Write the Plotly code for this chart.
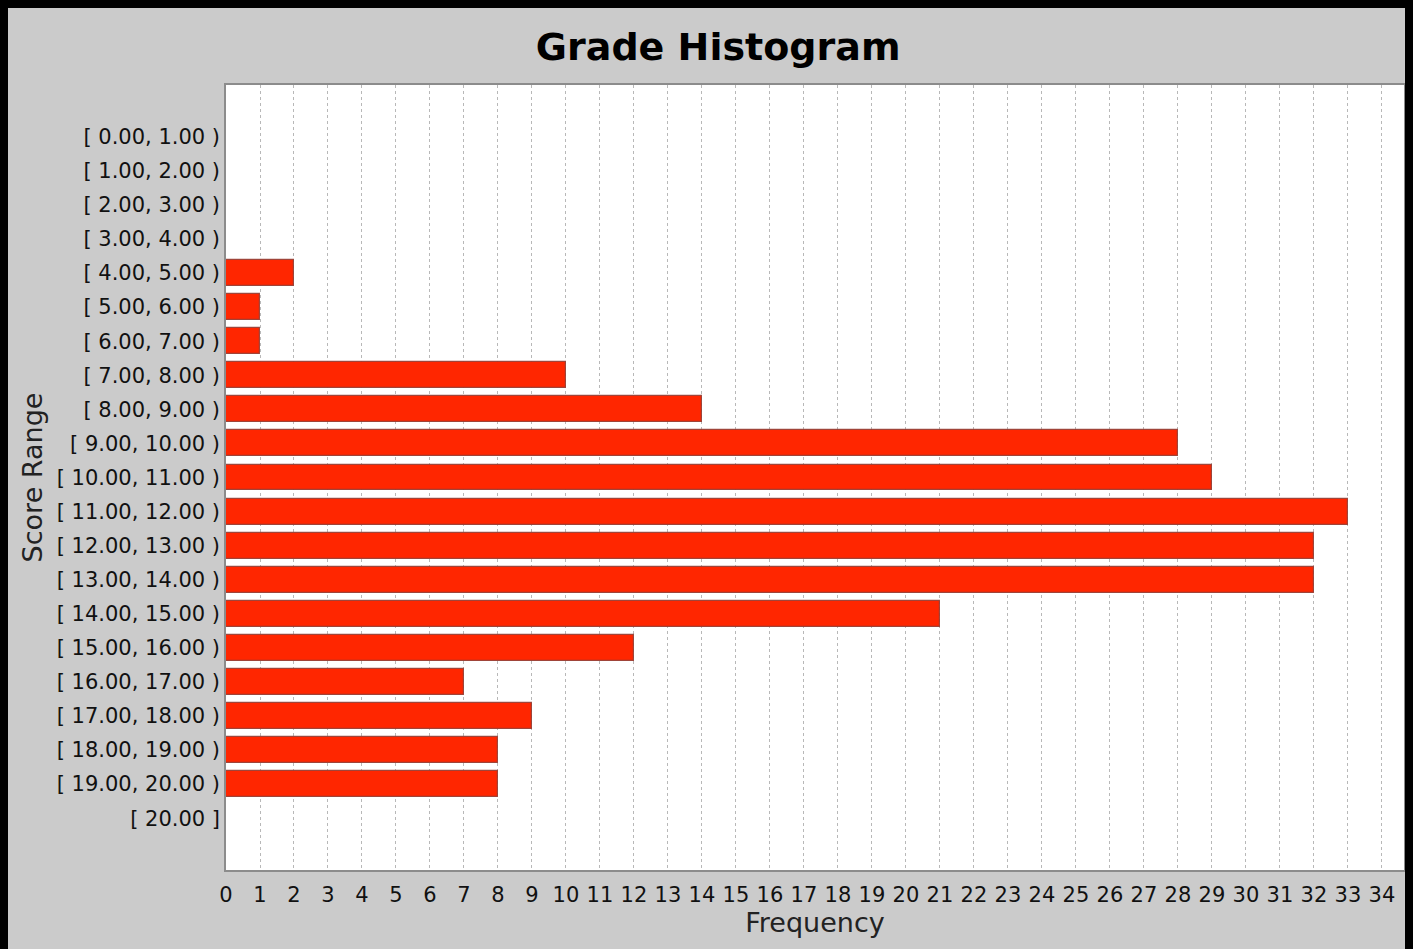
import plotly.graph_objects as go

categories = ["[ 0.00, 1.00 )", "[ 1.00, 2.00 )", "[ 2.00, 3.00 )", "[ 3.00, 4.00 )",
              "[ 4.00, 5.00 )", "[ 5.00, 6.00 )", "[ 6.00, 7.00 )", "[ 7.00, 8.00 )",
              "[ 8.00, 9.00 )", "[ 9.00, 10.00 )", "[ 10.00, 11.00 )", "[ 11.00, 12.00 )",
              "[ 12.00, 13.00 )", "[ 13.00, 14.00 )", "[ 14.00, 15.00 )", "[ 15.00, 16.00 )",
              "[ 16.00, 17.00 )", "[ 17.00, 18.00 )", "[ 18.00, 19.00 )", "[ 19.00, 20.00 )",
              "[ 20.00 ]"]
frequency = [0, 0, 0, 0, 2, 1, 1, 10, 14, 28, 29, 33, 32, 32, 21, 12, 7, 9, 8, 8, 0]
x_ticks = list(range(0, 35))

# page has an 8px body margin; figure sized to fill the rest of the window
W, H = 1405, 941
L, R, T, B = 218, 7, 77, 79
pw, ph = W - L - R, H - T - B

font_main = "DejaVu Sans, sans-serif"

fig = go.Figure(go.Bar(
    x=frequency, y=categories, orientation="h",
    marker=dict(color="#ff2600", line=dict(color="rgba(150,60,50,0.9)", width=1.2)),
    width=0.76,
))

fig.update_layout(
    width=W, height=H,
    margin=dict(l=L, r=R, t=T, b=B),
    paper_bgcolor="#cbcbcb",
    plot_bgcolor="white",
    showlegend=False,
    bargap=0,
    title=dict(text="<b>Grade Histogram</b>", x=(711 - L) / pw, xref="paper", xanchor="center",
               y=1 - 39 / H, yref="container", yanchor="middle",
               font=dict(family=font_main, size=38, color="black")),
    xaxis=dict(
        range=[0, 34.65], tickmode="array", tickvals=x_ticks, tickangle=0,
        showgrid=True, gridcolor="#b8b8b8", griddash="3px,3px", gridwidth=1,
        zeroline=False, showline=True, linecolor="#8c8c8c", linewidth=1.5, mirror=True,
        ticks="outside", ticklen=5, tickcolor="rgba(0,0,0,0)",
        tickfont=dict(family=font_main, size=21, color="#111"),
        title=dict(text="Frequency", font=dict(family=font_main, size=27, color="#222"), standoff=6),
    ),
    yaxis=dict(
        categoryorder="array", categoryarray=categories,
        range=[21.52, -1.52], showgrid=False, zeroline=False,
        showline=True, linecolor="#8c8c8c", linewidth=1.5, mirror=True,
        ticks="", tickfont=dict(family=font_main, size=21, color="#111"),
        title=dict(text="Score Range", font=dict(family=font_main, size=27, color="#222"), standoff=6),
    ),
)

fig.write_html("out.html", post_script="document.body.style.background='black';")
